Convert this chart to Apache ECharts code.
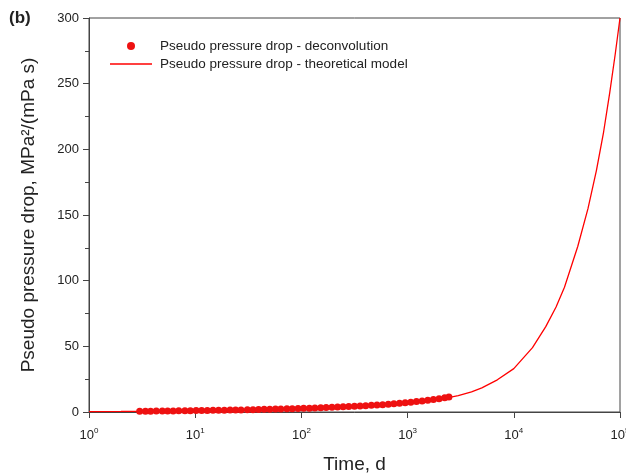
<!DOCTYPE html>
<html>
<head>
<meta charset="utf-8">
<script src="https://cdn.jsdelivr.net/npm/echarts@6/dist/echarts.min.js"></script>
<style>
  html, body { margin: 0; padding: 0; background: #fff; }
  #chart_pressure { width: 626px; height: 475px; }
</style>
</head>
<body>
<div id="chart_pressure"></div>
<script>
  // deconvolution points (time, d)
  const deconvTime = [3.0, 3.4, 3.8, 4.3, 4.9, 5.5, 6.2, 7.0, 8.0, 9.0, 10.2, 11.5, 13, 14.7, 16.6, 18.8,
    21.3, 24, 27, 31, 35, 39.5, 44.6, 50.4, 57, 64, 73, 82, 93, 105, 119, 134, 152, 171, 194, 219, 247,
    279, 316, 357, 403, 456, 515, 582, 658, 743, 840, 949, 1072, 1212, 1370, 1548, 1749, 1977, 2234, 2450]
  const deconvDrop = [0.55, 0.6, 0.65, 0.7, 0.75, 0.8, 0.85, 0.9, 0.95, 1.0, 1.05, 1.1, 1.2, 1.25, 1.3, 1.4,
    1.45, 1.55, 1.6, 1.7, 1.8, 1.9, 2.0, 2.1, 2.2, 2.3, 2.45, 2.55, 2.7, 2.8, 2.95, 3.1, 3.25, 3.4, 3.6, 3.8, 3.95,
    4.15, 4.35, 4.55, 4.8, 5.05, 5.3, 5.6, 5.9, 6.2, 6.6, 7.0, 7.4, 7.9, 8.4, 8.9, 9.5, 10.1, 10.8, 11.4]

  // theoretical model
  const modelTime = [1, 2, 3, 5, 10, 20, 50, 100, 200, 500, 1000, 2000, 3000, 4000, 5000, 7000, 10000,
    15000, 20000, 25000, 30000, 40000, 50000, 60000, 70000, 80000, 90000, 100000]
  const modelDrop = [0.3, 0.45, 0.55, 0.75, 1.0, 1.4, 2.0, 2.7, 3.5, 4.9, 6.6, 9.6, 12.5, 15.4, 18.4, 24.5, 33,
    49, 65, 80, 95, 126, 155, 184, 213, 243, 272, 300]

  const xTicks = [1, 10, 100, 1000, 10000, 100000]
  const yTicks = [0, 50, 100, 150, 200, 250, 300]

  const deconvData = deconvTime.map((t, i) => [t, deconvDrop[i]])
  const modelData = modelTime.map((t, i) => [t, modelDrop[i]])

  const chart = echarts.init(document.getElementById('chart_pressure'))

  const option = {
    animation: false,
    textStyle: { fontFamily: 'Liberation Sans, Arial, sans-serif' },
    title: {
      text: '(b)',
      left: 9,
      top: 10,
      padding: 0,
      textStyle: { fontSize: 17, fontWeight: 'bold', color: '#222' }
    },
    legend: {
      orient: 'vertical',
      left: 110,
      top: 39,
      padding: 0,
      itemWidth: 42,
      itemHeight: 8,
      itemGap: 4,
      textStyle: { fontSize: 13.5, color: '#222', padding: [0, 0, 0, 3] },
      data: [
        { name: 'Pseudo pressure drop - deconvolution', icon: 'circle' },
        { name: 'Pseudo pressure drop - theoretical model', icon: 'path://M0,0 L42,0 L42,1.3 L0,1.3 Z' }
      ]
    },
    grid: {
      left: 89,
      right: 6,
      top: 18,
      bottom: 63,
      outerBoundsMode: 'none',
      containLabel: false,
      show: true,
      borderColor: '#444',
      borderWidth: 1
    },
    xAxis: [{
      type: 'log',
      logBase: 10,
      min: xTicks[0],
      max: xTicks[xTicks.length - 1],
      name: 'Time, d',
      nameLocation: 'middle',
      nameGap: 43,
      nameTextStyle: { fontSize: 19, color: '#222' },
      axisLine: { lineStyle: { color: '#444' } },
      axisTick: { show: true, inside: false, length: 6, lineStyle: { color: '#444' } },
      splitLine: { show: false },
      axisLabel: {
        margin: 15,
        color: '#222',
        fontSize: 13,
        formatter: function (v) {
          return '10{sup|' + Math.round(Math.log10(v)) + '}'
        },
        rich: {
          sup: { fontSize: 8, verticalAlign: 'bottom', padding: [0, 0, 8, 0], color: '#222' }
        }
      }
    }],
    yAxis: [{
      type: 'value',
      min: yTicks[0],
      max: yTicks[yTicks.length - 1],
      interval: 50,
      name: 'Pseudo pressure drop, MPa\u00b2/(mPa s)',
      nameLocation: 'middle',
      nameGap: 51,
      nameTextStyle: { fontSize: 19, color: '#222' },
      axisLine: { show: true, lineStyle: { color: '#444' } },
      axisTick: { show: true, inside: false, length: 6, lineStyle: { color: '#444' } },
      minorTick: { show: true, splitNumber: 2, length: 4, lineStyle: { color: '#444' } },
      splitLine: { show: false },
      axisLabel: { color: '#222', fontSize: 13, margin: 10 }
    }],
    series: [{
      name: 'Pseudo pressure drop - theoretical model',
      type: 'line',
      data: modelData,
      symbol: 'none',
      smooth: false,
      lineStyle: { color: '#ff0000', width: 1.3 },
      itemStyle: { color: '#ff0000' },
      z: 2
    }, {
      name: 'Pseudo pressure drop - deconvolution',
      type: 'scatter',
      data: deconvData,
      symbol: 'circle',
      symbolSize: 7,
      itemStyle: { color: '#ee1111', opacity: 1 },
      z: 3
    }]
  }

  chart.setOption(option, true)
</script>
</body>
</html>
